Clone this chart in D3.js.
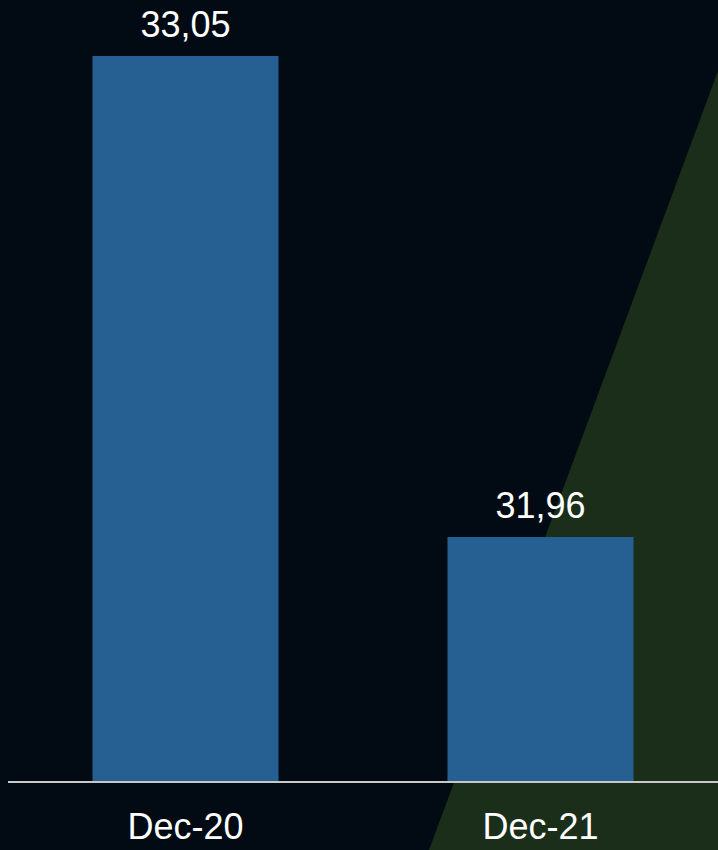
<!DOCTYPE html>
<html><head><meta charset="utf-8">
<script src="https://cdn.jsdelivr.net/npm/d3@7"></script>
<style>html,body{margin:0;padding:0;background:#020b14;}svg{display:block;}</style>
</head><body>
<script>
const categories = ["Dec-20", "Dec-21"];
const values = [33.05, 31.96];
const valueLabels = ["33,05", "31,96"];

const W = 718, H = 850;
const svg = d3.select("body").append("svg").attr("width", W).attr("height", H);
svg.append("rect").attr("width", W).attr("height", H).attr("fill", "#020b14");
// decorative green wedge
svg.append("polygon").attr("points", "718,71 718,850 429,850").attr("fill", "#1a2e1a");

const x = d3.scaleBand().domain(categories).range([8, 718]).paddingInner(0.476).paddingOuter(0.238);
const y = d3.scaleLinear().domain([31.407, 33.05]).range([781, 56]);

svg.selectAll("rect.bar").data(values).enter().append("rect")
  .attr("class", "bar")
  .attr("x", (d, i) => x(categories[i]))
  .attr("width", x.bandwidth())
  .attr("y", d => y(d))
  .attr("height", d => 781 - y(d))
  .attr("fill", "#265f91");

svg.selectAll("text.val").data(values).enter().append("text")
  .attr("x", (d, i) => x(categories[i]) + x.bandwidth() / 2)
  .attr("y", d => y(d) - 19)
  .attr("text-anchor", "middle")
  .attr("font-family", "Liberation Sans, Arial, sans-serif")
  .attr("font-size", 36)
  .attr("fill", "#ffffff")
  .text((d, i) => valueLabels[i]);

const axis = svg.append("g").attr("transform", "translate(0,782)")
  .call(d3.axisBottom(x).tickSize(0).tickPadding(31));
axis.select(".domain").attr("stroke", "#c8c8c8").attr("stroke-width", 2).attr("d", "M8,0H718");
axis.selectAll("text")
  .attr("font-family", "Liberation Sans, Arial, sans-serif")
  .attr("font-size", 36)
  .attr("fill", "#ffffff");
</script>
</body></html>
